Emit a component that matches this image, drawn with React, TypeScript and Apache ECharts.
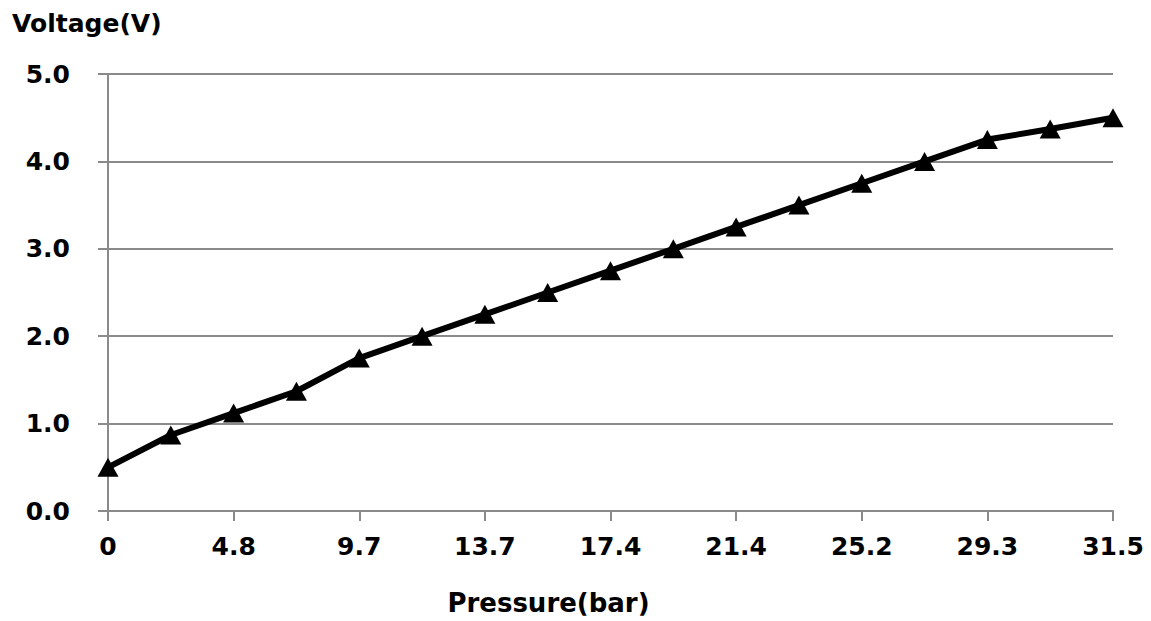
import React, { useEffect, useRef } from "react";
import * as echarts from "echarts";

const pressureCategories = [
  "0", "2.4", "4.8", "7.2", "9.7", "11.7", "13.7", "15.6", "17.4",
  "19.4", "21.4", "23.3", "25.2", "27.3", "29.3", "30.4", "31.5",
];
const voltageValues = [
  0.5, 0.87, 1.12, 1.37, 1.75, 2.0, 2.25, 2.5, 2.75,
  3.0, 3.25, 3.5, 3.75, 4.0, 4.25, 4.37, 4.5,
];
const yAxisName = "Voltage(V)";
const xAxisName = "Pressure(bar)";

const FONT = "DejaVu Sans";
const GRAY = "#8a8a8a";

export default function App() {
  const ref = useRef<HTMLDivElement>(null);
  useEffect(() => {
    if (!ref.current) return;
    const chart = echarts.init(ref.current, null, { renderer: "svg" });
    chart.setOption({
      animation: false,
      backgroundColor: "#ffffff",
      title: {
        text: yAxisName,
        left: 7,
        top: 6,
        textStyle: { fontFamily: FONT, fontWeight: "bold", fontSize: 25, color: "#000" },
      },
      grid: { left: 108, right: 38, top: 74, bottom: 108, containLabel: false },
      xAxis: {
        type: "category",
        data: pressureCategories,
        boundaryGap: false,
        name: xAxisName,
        nameLocation: "middle",
        nameGap: 79,
        nameTextStyle: {
          fontFamily: FONT,
          fontWeight: "bold",
          fontSize: 26,
          color: "#000",
          padding: [0, 124, 0, 0],
        },
        axisLine: { show: true, lineStyle: { color: GRAY, width: 2 } },
        axisTick: { show: true, interval: 1, length: 10, lineStyle: { color: GRAY, width: 2 } },
        axisLabel: {
          interval: 1,
          margin: 23,
          fontFamily: FONT,
          fontWeight: "bold",
          fontSize: 25,
          color: "#000",
        },
        splitLine: { show: false },
      },
      yAxis: {
        type: "value",
        min: 0,
        max: 5,
        interval: 1,
        axisLine: { show: true, lineStyle: { color: GRAY, width: 2 } },
        axisTick: { show: true, length: 10, lineStyle: { color: GRAY, width: 2 } },
        axisLabel: {
          margin: 38,
          fontFamily: FONT,
          fontWeight: "bold",
          fontSize: 25,
          color: "#000",
          formatter: (v: number) => v.toFixed(1),
        },
        splitLine: { show: true, lineStyle: { color: GRAY, width: 2 } },
      },
      series: [
        {
          type: "line",
          data: voltageValues,
          symbol: "triangle",
          symbolSize: [21, 19],
          lineStyle: { color: "#000", width: 6 },
          itemStyle: { color: "#000" },
        },
      ],
    });
    return () => chart.dispose();
  }, []);
  return (
    <div
      ref={ref}
      style={{ position: "fixed", left: 0, top: 0, width: 1151, height: 621, background: "#fff" }}
    />
  );
}
